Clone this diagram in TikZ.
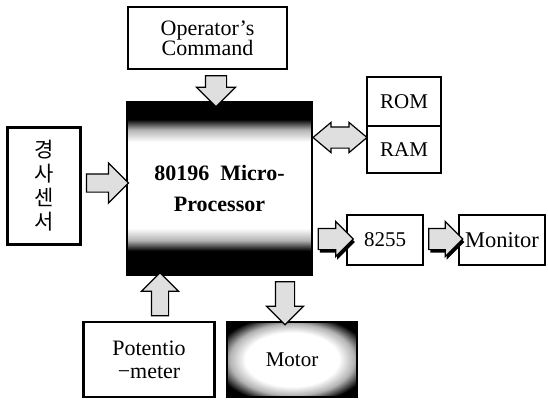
\documentclass[tikz,border=0pt]{standalone}
\usepackage{fontspec}
\setmainfont{Liberation Serif}
\newfontfamily\krfont{Noto Sans CJK KR}
\usetikzlibrary{shapes.arrows,shadows}

\pgfdeclareverticalshading{cpu_shade}{100bp}{color(0bp)=(black); color(32bp)=(black); color(35bp)=(gray!60); color(38.5bp)=(white); color(63.5bp)=(white); color(67bp)=(gray!60); color(70bp)=(black); color(100bp)=(black)}
\pgfdeclareradialshading{motor_shade}{\pgfpoint{0bp}{0bp}}{color(0bp)=(white); color(18bp)=(white); color(24bp)=(gray!60); color(30bp)=(black); color(50bp)=(black)}

\begin{document}
\begin{tikzpicture}[x=1pt, y=-1pt]
  \tikzset{
    block_node/.style={draw, line width=2.5pt, inner sep=2pt, align=center, font=\fontsize{21}{21}\selectfont},
    fat_arrow/.style={single arrow, draw, line width=1.2pt, fill=gray!25, inner xsep=0pt},
    both_arrow/.style={double arrow, draw, line width=1.2pt, fill=gray!25, inner xsep=0pt},
    dark_shadow/.style={drop shadow={shadow xshift=1.5pt, shadow yshift=-3pt, fill=black, opacity=1}}
  }
  \useasboundingbox (0,0) rectangle (548,401);

  % Bloques
  \node[block_node, minimum width=159pt, minimum height=62pt,
        font=\fontsize{22}{20}\selectfont] (op) at (207.5,38) {Operator’s\\Command};
  \node[block_node, shading=cpu_shade, minimum width=185pt, minimum height=173pt,
        font=\bfseries\fontsize{22}{31}\selectfont] (cpu) at (219.5,188.5) {80196~~Micro-\\Processor};
  \node[block_node, minimum width=73pt, minimum height=117pt,
        font=\krfont\fontsize{21}{24}\selectfont] (sensor) at (44,186) {경\\사\\센\\서};
  \node[block_node, minimum width=74pt, minimum height=49pt] (rom) at (404,101.5) {ROM};
  \node[block_node, minimum width=74pt, minimum height=47pt] (ram) at (404,149.5) {RAM};
  \node[block_node, minimum width=76pt, minimum height=50pt] (chip) at (385,240) {8255};
  \node[block_node, minimum width=86pt, minimum height=50pt,
        font=\fontsize{22.5}{22}\selectfont] (mon) at (502,240) {Monitor};
  \node[block_node, minimum width=131pt, minimum height=75pt,
        font=\fontsize{22}{23}\selectfont] (pot) at (149,359.5) {Potentio\\−meter};
  \node[block_node, shading=motor_shade, minimum width=130pt, minimum height=75pt] (motor) at (292,359.5) {Motor};

  % Flechas
  \node[fat_arrow, rotate=270, minimum height=31pt, inner ysep=10pt,
        single arrow head extend=9pt] (op_arrow) at (216,86) {};
  \node[fat_arrow, minimum height=42pt, inner ysep=8.5pt,
        single arrow head extend=11pt] (sensor_arrow) at (103,183) {};
  \node[both_arrow, minimum height=54pt, inner ysep=10pt,
        double arrow head extend=4.5pt, double arrow tip angle=80] (mem_arrow) at (340,137.5) {};
  \node[fat_arrow, dark_shadow, minimum height=35pt, inner ysep=10pt,
        single arrow head extend=7pt] (chip_arrow) at (330.5,239) {};
  \node[fat_arrow, dark_shadow, minimum height=34pt, inner ysep=10pt,
        single arrow head extend=7pt] (mon_arrow) at (440.5,239) {};
  \node[fat_arrow, rotate=90, minimum height=43pt, inner ysep=8pt,
        single arrow head extend=10pt] (pot_arrow) at (160,298.5) {};
  \node[fat_arrow, rotate=270, minimum height=43pt, inner ysep=9pt,
        single arrow head extend=9pt] (motor_arrow) at (285,298.5) {};
\end{tikzpicture}
\end{document}
